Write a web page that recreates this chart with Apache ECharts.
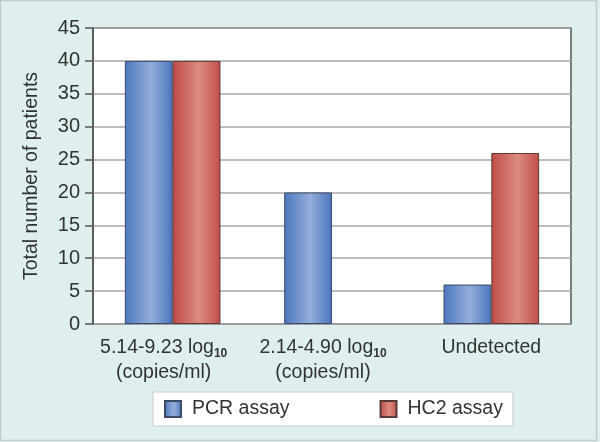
<!DOCTYPE html>
<html>
<head>
<meta charset="utf-8">
<script src="https://cdn.jsdelivr.net/npm/echarts@6/dist/echarts.min.js"></script>
<style>
  html, body { margin: 0; padding: 0; background: #dfeff0; }
  #chart { width: 600px; height: 442px; }
</style>
</head>
<body>
<div id="chart"></div>
<script>
var categories = ['5.14-9.23 log{sub|10}\n(copies/ml)', '2.14-4.90 log{sub|10}\n(copies/ml)', 'Undetected'];
var pcrData = [40, 20, 6];
var hc2Data = [40, 0, 26];
var yTicks = [0, 5, 10, 15, 20, 25, 30, 35, 40, 45];

var grad = function(edge, mid, edge2) {
	return new echarts.graphic.LinearGradient(0, 0, 1, 0, [
		{ offset: 0, color: edge },
		{ offset: 0.55, color: mid },
		{ offset: 1, color: edge2 }
	]);
};

// labels with a subscript sit a bit left of the band centre in the original
var xData = categories.map(function(c) {
	if (c.indexOf('{sub|') >= 0) {
		return { value: c, textStyle: { padding: [0, 18, 0, 0] } };
	}
	return c;
});

// zero bars: no outline along the axis
var barItems = function(list) {
	return list.map(function(v) {
		return v === 0 ? { value: v, itemStyle: { borderWidth: 0 } } : v;
	});
};

var chart = echarts.init(document.getElementById('chart'));
chart.setOption({
	backgroundColor: '#dfeff0',
	animation: false,
	textStyle: { fontFamily: 'Liberation Sans, Arial, sans-serif', color: '#333' },
	graphic: [{
		type: 'rect',
		shape: { x: 0.5, y: 0.5, width: 596, height: 440 },
		style: { fill: 'none', stroke: '#c3cccc', lineWidth: 1.5 },
		z: -1
	}],
	grid: {
		left: 93, right: 29, top: 28, bottom: 118,
		show: true,
		backgroundColor: '#fff',
		borderColor: '#555',
		borderWidth: 1.5
	},
	legend: {
		left: 153,
		top: 392,
		backgroundColor: '#fff',
		borderColor: '#c8cccc',
		borderWidth: 1,
		padding: [7, 10, 7, 11],
		icon: 'rect',
		itemWidth: 16,
		itemHeight: 16,
		itemGap: 90,
		textStyle: { fontSize: 19.5, color: '#333', padding: [0, 0, 0, 6] },
		data: ['PCR assay', 'HC2 assay']
	},
	xAxis: {
		type: 'category',
		data: xData,
		axisLine: { show: false },
		axisTick: { show: false },
		axisLabel: {
			fontSize: 19.5,
			lineHeight: 25,
			margin: 11,
			color: '#333',
			interval: 0,
			rich: {
				sub: { fontSize: 12, fontWeight: 'bold', verticalAlign: 'bottom', padding: [8, 0, 0, 0] }
			}
		}
	},
	yAxis: {
		type: 'value',
		min: 0,
		max: yTicks[yTicks.length - 1],
		interval: yTicks[1] - yTicks[0],
		name: 'Total number of patients',
		nameLocation: 'middle',
		nameGap: 51,
		nameTextStyle: { fontSize: 19.5, color: '#333' },
		axisLine: { show: true, lineStyle: { color: '#555', width: 1.5 } },
		axisTick: { show: true, length: 8, lineStyle: { color: '#555', width: 1.5 } },
		axisLabel: { fontSize: 20, color: '#333', margin: 13 },
		splitLine: { lineStyle: { color: '#a8a8a8', width: 1.5 } }
	},
	series: [{
		name: 'PCR assay',
		type: 'bar',
		data: barItems(pcrData),
		barGap: '0%',
		barCategoryGap: '40%',
		itemStyle: {
			color: grad('#4b78c0', '#95add9', '#4a75bc'),
			borderColor: '#3b4a66',
			borderWidth: 1
		}
	}, {
		name: 'HC2 assay',
		type: 'bar',
		data: barItems(hc2Data),
		barGap: '0%',
		barCategoryGap: '40%',
		itemStyle: {
			color: grad('#c04b46', '#dc8c81', '#c24d47'),
			borderColor: '#5a3a38',
			borderWidth: 1
		}
	}]
});
</script>
</body>
</html>
